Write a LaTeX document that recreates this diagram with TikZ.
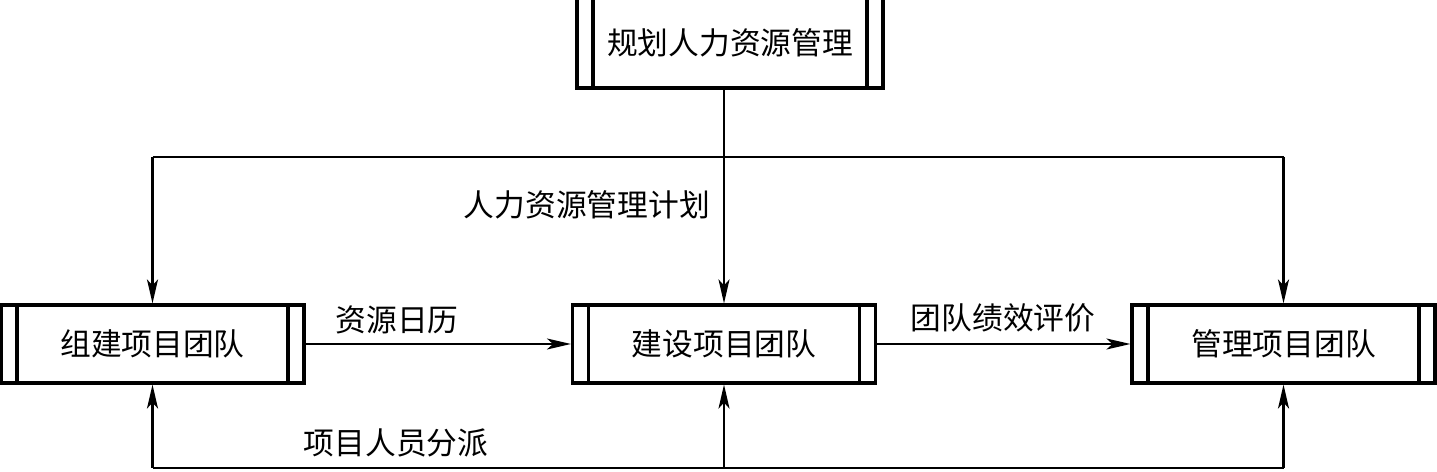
\documentclass[tikz,border=0pt]{standalone}
\usepackage{fontspec}
\setmainfont{Noto Sans CJK SC}
\usetikzlibrary{arrows.meta}
\tikzset{
  procbox/.style={draw, line width=1.8pt, minimum width=6.06cm, minimum height=1.56cm, inner sep=0pt,
    path picture={\draw[line width=1.8pt]
      ([xshift=0.32cm]path picture bounding box.north west) -- ([xshift=0.32cm]path picture bounding box.south west)
      ([xshift=-0.32cm]path picture bounding box.north east) -- ([xshift=-0.32cm]path picture bounding box.south east);}},
  flow/.style={line width=1.2pt, -{Stealth[length=0.48cm,width=0.22cm,inset=0.12cm]}},
  bus/.style={line width=1.2pt}
}
\begin{document}
\begin{tikzpicture}[x=0.02cm, y=-0.02cm, font=\fontsize{17.5pt}{21pt}\selectfont]
\useasboundingbox (0,0) rectangle (1437,472);
\node[procbox, minimum width=6.12cm, minimum height=1.8cm] (plan) at (730,43){规划人力资源管理};
\node[procbox] (acq) at (152.5,344){组建项目团队};
\node[procbox] (dev) at (724,344){建设项目团队};
\node[procbox] (mgt) at (1283.5,344){管理项目团队};
\coordinate (bus) at (0,157);
\coordinate (feed) at (0,468);
% top distribution
\draw[flow](plan.south -| dev) -- (dev.north);
\draw[bus](bus -| acq) -- (bus -| mgt);
\draw[flow](bus -| acq) -- (acq.north);
\draw[flow](bus -| mgt) -- (mgt.north);
% between the teams
\draw[flow](acq) -- (dev);
\draw[flow](dev) -- (mgt);
% bottom feedback
\draw[bus](feed -| acq) -- (feed -| mgt);
\draw[flow](feed -| acq) -- (acq.south);
\draw[flow](feed -| dev) -- (dev.south);
\draw[flow](feed -| mgt) -- (mgt.south);
% labels
\node[anchor=east] (lplan) at (716,205){人力资源管理计划};
\node (lcal) at (397,320){资源日历};
\node (leval) at (1003,318){团队绩效评价};
\node (lassign) at (396,443){项目人员分派};
\end{tikzpicture}
\end{document}
